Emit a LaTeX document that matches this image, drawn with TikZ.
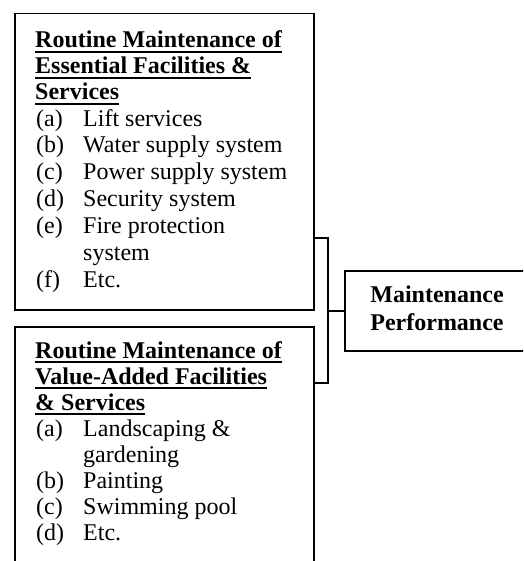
\documentclass[tikz,border=0pt]{standalone}
\usepackage{fontspec}
\setmainfont{Liberation Serif}
% bold heading with a heavy underline set just below the baseline
\newcommand\ulhead[1]{\setbox0=\hbox{\bfseries #1}\rlap{\rule[-5pt]{\wd0}{2.2pt}}\box0}
\tikzset{
  box/.style={draw, line width=1.5pt, inner sep=0pt, anchor=north west},
  ln/.style={anchor=base west, inner sep=0pt, font=\fontsize{24}{26}\selectfont},
  wire/.style={line width=1.5pt},
}
\begin{document}
\begin{tikzpicture}[x=1pt,y=1pt]
\useasboundingbox (0,0) rectangle (523,-561);
\begin{scope}
  \clip (0,0) rectangle (523,-561);
  \node[box, minimum width=299pt, minimum height=296pt] (ess) at (14,-13) {};
  \node[box, minimum width=299pt, minimum height=260pt] (val) at (14,-326) {};
  \node[box, minimum width=186pt, minimum height=80pt] (perf) at (344,-270) {};
\end{scope}

% essential facilities
\node[ln] (eh1) at (35,-48)  {\ulhead{Routine Maintenance of}};
\node[ln] (eh2) at (35,-74)  {\ulhead{Essential Facilities \&}};
\node[ln] (eh3) at (35,-100) {\ulhead{Services}};
\foreach \lab/\txt/\y [count=\i] in {(a)/Lift services/126.5,
    (b)/Water supply system/153, (c)/Power supply system/180,
    (d)/Security system/206.5, (e)/Fire protection/233, (f)/Etc./287} {
  \node[ln] (el\i) at (36,-\y) {\lab};
  \node[ln] (et\i) at (83,-\y) {\txt};
}
\node[ln] (ecnt) at (83,-260) {system};

% value-added facilities
\node[ln] (vh1) at (35,-358) {\ulhead{Routine Maintenance of}};
\node[ln] (vh2) at (35,-384) {\ulhead{Value-Added Facilities}};
\node[ln] (vh3) at (35,-410) {\ulhead{\& Services}};
\foreach \lab/\txt/\y [count=\i] in {(a)/Landscaping \&/436,
    (b)/Painting/488, (c)/Swimming pool/514, (d)/Etc./540} {
  \node[ln] (vl\i) at (36,-\y) {\lab};
  \node[ln] (vt\i) at (83,-\y) {\txt};
}
\node[ln] (vcnt) at (83,-462) {gardening};

% outcome
\node[ln, anchor=base] (p1) at (437,-302) {\bfseries Maintenance};
\node[ln, anchor=base] (p2) at (437,-330) {\bfseries Performance};

% bracket joining both boxes to the outcome
\coordinate (jt) at (328,-238);
\coordinate (jb) at (328,-383);
\draw[wire] (jt -| ess.east) -- (jt) -- (jb) -- (jb -| val.east);
\draw[wire] (jt |- perf.west) -- (perf.west);
\end{tikzpicture}
\end{document}
